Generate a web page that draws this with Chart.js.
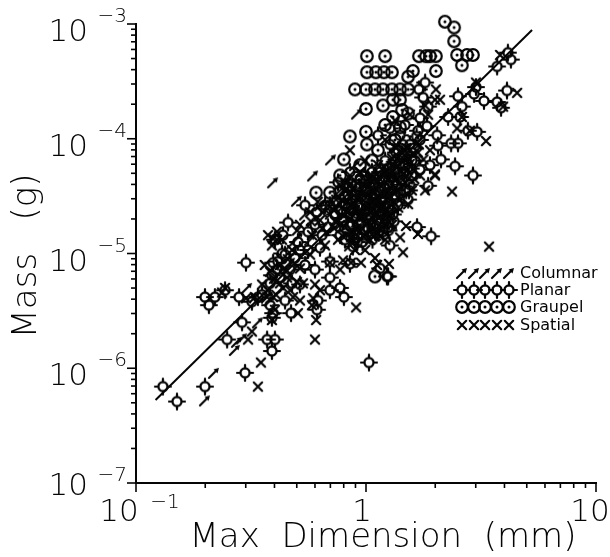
<!DOCTYPE html>
<html>
<head>
<meta charset="utf-8">
<title>Mass vs Max Dimension</title>
<script src="https://cdn.jsdelivr.net/npm/chart.js@4"></script>
<style>
  html, body { margin: 0; padding: 0; background: #fff; }
  canvas { display: block; }
</style>
</head>
<body>
<canvas id="myChart" width="610" height="557"></canvas>
<script>
// values, as [log10 of mm, log10 of g]
const columnar = [
  [-.039,-3.78],[-.152,-4.18],[-.230,-4.32],[-.404,-4.38],[-.300,-4.54],[-.517,-5.30],[-.470,-5.60],
  [-.539,-5.74],[-.561,-5.77],[-.570,-5.84],[-.661,-6.04],[-.700,-6.28],[-.296,-4.86],[-.330,-5.08],
  [-.200,-4.58],[-.113,-4.45],[-.374,-5.32],[-.309,-5.13],[-.243,-4.88],[-.091,-4.66],[-.026,-4.49],
  [-.157,-4.80],[-.417,-5.41],[.039,-4.32],[-.048,-4.23],[-.330,-4.93],[-.265,-4.66],[-.070,-4.93]
];
const planar = [
  [.617,-3.25],[.630,-3.31],[.570,-3.37],[.478,-3.55],[.400,-3.63],[.470,-3.61],[.513,-3.67],[.570,-3.68],
  [.587,-3.73],[.613,-3.58],[.417,-3.72],[.357,-3.81],[.409,-3.81],[.309,-3.97],[.443,-3.93],[.483,-3.94],
  [.370,-4.04],[.400,-4.04],[.313,-4.06],[.326,-4.18],[.387,-4.24],[.465,-4.32],[.270,-4.41],[.187,-4.45],
  [.257,-3.51],[.230,-3.57],[.248,-3.64],[.270,-3.72],[.235,-3.82],[.265,-3.89],[.226,-3.93],[.117,-4.66],
  [.096,-4.77],[.222,-4.77],[.283,-4.85],[.104,-4.93],[-.057,-4.94],[.096,-5.20],[.061,-5.13],[-.070,-5.09],
  [-.096,-5.38],[-.113,-5.30],[.013,-5.95],[.074,-4.81],[.039,-4.81],[-.339,-4.73],[-.361,-4.84],[-.365,-5.00],
  [-.522,-5.08],[-.404,-5.08],[-.387,-5.14],[-.417,-5.26],[-.322,-5.26],[-.222,-5.14],[-.157,-5.21],[-.157,-5.32],
  [-.209,-5.41],[-.213,-5.49],[-.326,-5.52],[-.404,-5.52],[-.700,-5.38],[-.657,-5.38],[-.683,-5.45],[-.613,-5.32],
  [-.552,-5.38],[-.470,-5.38],[-.496,-5.42],[-.539,-5.60],[-.604,-5.75],[-.430,-5.75],[-.396,-5.75],[-.409,-5.85],
  [-.526,-6.04],[-.700,-6.16],[-.883,-6.16],[-.822,-6.29],[-.213,-4.64],[-.165,-4.77],[-.252,-4.97],[-.157,-5.07],
  [.091,-5.20],
  // dense middle part
  [-.091,-4.58],[-.048,-4.49],[-.004,-4.45],[.039,-4.40],[.083,-4.34],[.126,-4.27],[.170,-4.23],[.213,-4.19],
  [-.061,-4.75],[-.017,-4.66],[.026,-4.58],[.070,-4.52],[.113,-4.45],[.157,-4.36],[.200,-4.32],[-.091,-4.88],
  [-.035,-4.84],[.009,-4.78],[.052,-4.71],[.096,-4.64],[.139,-4.58],[.183,-4.53],[.235,-4.27],[.278,-4.23],
  [-.026,-4.36],[.026,-4.29],[.083,-4.19],[.139,-4.10],[.191,-4.05],[.235,-4.01],[.052,-3.97],[.104,-3.91],
  [.170,-3.88],[-.070,-4.29],[-.122,-4.38],[-.178,-4.58],[-.135,-4.66],[-.191,-4.84],[-.252,-4.81],[-.296,-4.90],
  [-.265,-5.10],[-.200,-4.95],[-.287,-5.27],[-.352,-5.41],[-.265,-4.58],
  [-.078,-4.49],[-.035,-4.58],[.009,-4.66],[.052,-4.60],[.083,-4.53],[.126,-4.49],[.039,-4.49],[-.004,-4.32],
  [.061,-4.29],[.113,-4.34],[.157,-4.14],[.200,-4.19],[.104,-4.05],[.148,-3.97],[-.061,-4.62],[-.104,-4.69],
  [-.157,-4.58],[-.113,-4.84],[-.048,-4.88],[-.396,-4.88],[-.383,-5.07],[-.409,-5.19],[-.374,-5.21],[-.452,-5.36],
  [-.330,-5.14],[-.352,-5.01],[-.309,-5.04],[-.287,-4.97],[-.222,-4.75],[-.409,-5.56],[-.417,-5.45],
  [-.12,-4.46],[-.10,-4.72],[-.085,-4.80],[-.06,-4.54],[-.055,-4.68],[-.05,-4.83],[-.03,-4.42],[-.025,-4.60],
  [-.02,-4.73],[-.015,-4.90],[0,-4.36],[.005,-4.52],[.012,-4.71],[.02,-4.83],[.03,-4.40],[.035,-4.62],
  [.045,-4.76],[.06,-4.46],[.065,-4.66],[.07,-4.35],[.085,-4.58],[.09,-4.70],[.10,-4.40],[.11,-4.62],
  [.125,-4.20],[.14,-4.32],[.15,-4.47],[.16,-4.05],[.18,-4.13],[.19,-4.40],[.21,-4.08],[.22,-3.98],
  [-.13,-4.55],[-.11,-4.63],[-.095,-4.50],[-.075,-4.42],[-.072,-4.76],[-.065,-4.60],[-.045,-4.40],[-.04,-4.65],
  [-.038,-4.90],[-.018,-4.50],[-.012,-4.79],[.002,-4.62],[.015,-4.46],[.018,-4.68],[.028,-4.88],[.034,-4.34],
  [.042,-4.55],[.055,-4.82],[.068,-4.55],[.078,-4.42],[.08,-4.64],[.095,-4.30],[.098,-4.80],[.118,-4.40],
  [.122,-4.72],[.13,-4.12],[.145,-4.22],[.165,-4.30],[.175,-4.45],[.195,-4.26]
];
const graupel = [
  [.343,-2.98],[.383,-3.03],[.383,-3.15],[.396,-3.27],[.439,-3.27],[.465,-3.27],[.417,-3.36],[.004,-3.28],
  [.083,-3.28],[.230,-3.28],[.261,-3.28],[.278,-3.28],[.304,-3.28],[.004,-3.42],[.043,-3.42],[.078,-3.42],
  [.113,-3.42],[.204,-3.41],[.304,-3.41],[.183,-3.46],[-.048,-3.57],[0,-3.57],[.039,-3.57],[.074,-3.57],
  [.113,-3.57],[.148,-3.57],[.183,-3.57],[0,-3.74],[.074,-3.71],[.117,-3.66],[.148,-3.66],[.117,-3.81],
  [.157,-3.75],[.183,-3.78],[-.070,-3.98],[0,-3.94],[.083,-3.88],[.148,-3.90],[-.096,-4.18],[.004,-4.05],
  [-.217,-4.47],[-.157,-4.47],[.039,-5.20],[.052,-4.10],[.126,-4.01],[-.026,-4.23],[.026,-4.19],[.096,-4.27],
  [-.070,-4.40],[.061,-4.62],[-.113,-4.32]
];
const spatial = [
  [.304,-3.57],[.300,-3.66],[.657,-3.60],[.396,-3.91],[.522,-4.02],[.374,-4.46],[.300,-4.31],[.417,-3.81],
  [.478,-3.51],[.583,-3.27],[.596,-3.72],[.452,-3.93],[.270,-3.79],[-.070,-4.32],[.535,-4.94],[.161,-4.99],
  [.100,-5.09],[.039,-5.04],[.048,-5.10],[-.022,-5.08],[-.004,-4.97],[-.043,-5.47],[.174,-4.76],[.226,-4.83],
  [.148,-4.86],[.183,-4.57],[-.222,-5.75],[-.513,-5.75],[-.496,-5.68],[-.457,-5.95],[-.470,-6.16],[-.317,-5.38],
  [-.296,-5.52],[-.157,-5.08],[-.243,-4.64],[-.387,-4.88],[-.274,-5.26],[-.200,-5.32],[-.230,-5.39],[-.404,-5.38],
  [-.430,-5.38],[-.483,-5.38],[-.522,-5.39],[-.613,-5.30],[-.626,-5.34],[-.100,-5.06],[-.065,-5.08],[-.404,-4.87],
  [-.343,-5.21],[-.374,-5.26],
  // dense middle part
  [-.091,-4.45],[-.048,-4.62],[.009,-4.53],[.061,-4.40],[.126,-4.36],[.183,-4.27],[.235,-4.32],[.039,-4.66],
  [.083,-4.75],[-.026,-4.80],[-.113,-4.75],[-.157,-4.66],[-.070,-4.10],[-.004,-4.19],[.052,-4.23],[.113,-4.17],
  [.170,-4.10],[.226,-4.12],[.278,-4.10],[.148,-4.53],[.200,-4.45],[.257,-4.45],[.300,-4.32],[.017,-4.88],
  [.083,-4.88],[-.122,-4.88],[-.200,-4.71],[-.287,-4.75],[-.322,-4.97],[-.235,-4.84],[-.178,-4.93],[-.113,-5.14],
  [-.222,-5.27],[-.287,-5.41],[-.048,-4.97],[.017,-4.36],[.083,-4.01],[.126,-3.84],[.191,-3.79],[.257,-3.71],
  [.322,-3.66],
  [-.104,-4.53],[-.078,-4.64],[-.043,-4.73],[-.009,-4.85],[-.070,-4.81],[.026,-4.78],[.061,-4.85],[.113,-4.75],
  [-.035,-4.52],[-.004,-4.60],[.052,-4.52],[.096,-4.45],[.139,-4.45],[.170,-4.38],[.078,-4.25],[.130,-4.08],
  [.183,-4.17],[.026,-4.45],[-.026,-4.29],[-.070,-4.40],[-.130,-4.53],[-.165,-4.58],[-.191,-4.64],[-.139,-4.78],
  [-.387,-4.81],[-.409,-4.93],[-.365,-4.88],[-.426,-4.84],[-.374,-5.10],[-.417,-5.16],[-.452,-5.27],[-.426,-5.32],
  [-.348,-5.14],[-.330,-5.32],[-.391,-5.36],[-.409,-5.58],[-.396,-5.49],[-.235,-5.45],[-.217,-5.58],[-.287,-5.13],
  [-.243,-5.01],
  [-.14,-4.62],[-.115,-4.40],[-.10,-4.85],[-.08,-4.55],[-.07,-4.70],[-.06,-4.44],[-.04,-4.78],[-.03,-4.50],
  [-.01,-4.68],[0,-4.82],[.01,-4.42],[.03,-4.55],[.04,-4.72],[.05,-4.38],[.06,-4.60],[.075,-4.72],
  [.09,-4.48],[.10,-4.30],[.105,-4.67],[.12,-4.55],[.135,-4.25],[.15,-4.38],[.165,-4.18],[.19,-4.22],
  [.21,-4.35],[.23,-4.05],[.25,-4.18],[-.21,-4.55],[-.19,-4.78],[-.24,-4.72],[-.30,-4.80],[-.34,-5.05],
  [-.30,-5.25],[-.36,-5.30],[-.40,-5.22],[-.44,-5.10],
  [-.135,-4.72],[-.105,-4.60],[-.09,-4.38],[-.065,-4.86],[-.05,-4.56],[-.028,-4.68],[-.012,-4.40],[.002,-4.74],
  [.014,-4.58],[.024,-4.32],[.036,-4.46],[.048,-4.82],[.07,-4.48],[.088,-4.62],[.1,-4.52],[.115,-4.22],
  [.128,-4.46],[.14,-4.60],[.155,-4.28],[.175,-4.08],[.205,-4.13]
];
// fit line end points
const fitLine = [[-.915,-6.277],[.722,-3.052]];

// axis labels
const xDecades = [-1, 0, 1];
const yDecades = [-7, -6, -5, -4, -3];
const minorSteps = [2, 3, 4, 5, 6, 7, 8, 9];
const legendNames = ['Columnar', 'Planar', 'Graupel', 'Spatial'];
const xTitle = 'Max  Dimension  (mm)';
const yTitle = 'Mass   (g)';

const ink = '#050505';
const labelFont = '"DejaVu Sans"';

//petit canvas pour chaque symbole
function makeMark(size, draw) {
    const c = document.createElement('canvas');
    c.width = size;
    c.height = size;
    const g = c.getContext('2d');
    g.translate(size / 2, size / 2);
    g.strokeStyle = ink;
    g.fillStyle = ink;
    g.lineWidth = 2.2;
    g.lineCap = 'round';
    draw(g);
    return c;
}

const arrowMark = makeMark(16, g => {
    g.beginPath(); g.moveTo(-5, 5); g.lineTo(2, -2); g.stroke();
    g.beginPath(); g.moveTo(5, -5); g.lineTo(-.5, -3.5); g.lineTo(3.5, .5); g.closePath(); g.fill();
});
const planarMark = makeMark(20, g => {
    g.beginPath(); g.arc(0, 0, 4.6, 0, Math.PI * 2); g.stroke();
    g.beginPath();
    g.moveTo(-8, 0); g.lineTo(-4.6, 0);
    g.moveTo(8, 0); g.lineTo(4.6, 0);
    g.moveTo(0, -8); g.lineTo(0, -4.6);
    g.moveTo(0, 8); g.lineTo(0, 4.6);
    g.stroke();
});
const graupelMark = makeMark(18, g => {
    g.beginPath(); g.arc(0, 0, 5.8, 0, Math.PI * 2); g.stroke();
    g.beginPath(); g.arc(0, 0, 1.5, 0, Math.PI * 2); g.fill();
});
const spatialMark = makeMark(14, g => {
    g.beginPath();
    g.moveTo(-4.2, -4.2); g.lineTo(4.2, 4.2);
    g.moveTo(-4.2, 4.2); g.lineTo(4.2, -4.2);
    g.stroke();
});

const toPoints = list => list.map(p => ({ x: Math.pow(10, p[0]), y: Math.pow(10, p[1]) }));
const markSet = (label, list, mark) => ({
    label,
    data: toPoints(list),
    pointStyle: mark,
    pointRadius: 6,
    clip: false
});

//graduations, labels et légende
const axisDecor = {
    id: 'axisDecor',
    afterDraw(chart) {
        const { ctx, scales: { x, y } } = chart;
        ctx.save();
        ctx.strokeStyle = ink;
        ctx.fillStyle = ink;
        ctx.lineWidth = 1.6;

        const xTick = (v, len) => {
            const p = x.getPixelForValue(v);
            ctx.beginPath(); ctx.moveTo(p, x.top); ctx.lineTo(p, x.top + len); ctx.stroke();
        };
        const yTick = (v, len) => {
            const p = y.getPixelForValue(v);
            ctx.beginPath(); ctx.moveTo(y.right, p); ctx.lineTo(y.right - len, p); ctx.stroke();
        };
        xDecades.forEach((d, i) => {
            xTick(Math.pow(10, d), 9);
            if (i < xDecades.length - 1) minorSteps.forEach(m => xTick(m * Math.pow(10, d), 5));
        });
        yDecades.forEach((d, i) => {
            yTick(Math.pow(10, d), 9);
            if (i < yDecades.length - 1) minorSteps.forEach(m => yTick(m * Math.pow(10, d), 5));
        });

        ctx.textBaseline = 'middle';
        // y labels
        yDecades.forEach(d => {
            const p = y.getPixelForValue(Math.pow(10, d));
            const shift = d === -7 ? 4 : 9;
            ctx.textAlign = 'right';
            ctx.font = '200 31px ' + labelFont;
            ctx.fillText('10', 88, p + shift);
            ctx.font = '200 20px ' + labelFont;
            ctx.fillText('\u2212' + Math.abs(d), 127, p - 7);
        });
        // x labels
        const base = x.top + 30;
        ctx.textAlign = 'center';
        ctx.font = '200 31px ' + labelFont;
        ctx.fillText('10', x.getPixelForValue(0.1) - 17, base);
        ctx.fillText('1', x.getPixelForValue(1) - 4, base);
        ctx.fillText('10', x.getPixelForValue(10) - 6, base);
        ctx.font = '200 20px ' + labelFont;
        ctx.fillText('\u22121', x.getPixelForValue(0.1) + 29, base - 10);

        // axis titles
        ctx.save();
        ctx.font = '200 34px ' + labelFont;
        ctx.fillText(xTitle, 383, 538);
        ctx.translate(27, 256);
        ctx.rotate(-Math.PI / 2);
        ctx.fillText(yTitle, 0, 0);
        ctx.restore();

        // legend
        const marks = [arrowMark, planarMark, graupelMark, spatialMark];
        const rows = [273, 290, 307, 325];
        const slots = [462, 474, 485, 497, 509];
        ctx.textAlign = 'left';
        ctx.font = '16px ' + labelFont;
        legendNames.forEach((name, i) => {
            slots.forEach(s => ctx.drawImage(marks[i], s - marks[i].width / 2, rows[i] - marks[i].height / 2));
            ctx.fillText(name, 520, rows[i] + 1);
        });
        ctx.restore();
    }
};

const data = {
    datasets: [
        {
            label: 'Fit',
            data: toPoints(fitLine),
            showLine: true,
            borderColor: ink,
            borderWidth: 2,
            pointRadius: 0,
            clip: false
        },
        markSet('Columnar', columnar, arrowMark),
        markSet('Planar', planar, planarMark),
        markSet('Graupel', graupel, graupelMark),
        markSet('Spatial', spatial, spatialMark)
    ]
};

const config = {
    type: 'scatter',
    data,
    options: {
        responsive: false,
        animation: false,
        layout: { padding: { top: 24, right: 14 } },
        plugins: { legend: { display: false }, tooltip: { enabled: false } },
        scales: {
            x: {
                type: 'logarithmic',
                min: 0.1,
                max: 10,
                grid: { display: false },
                border: { color: ink, width: 2 },
                ticks: { display: false },
                afterFit: s => { s.height = 74; }
            },
            y: {
                type: 'logarithmic',
                min: 1e-7,
                max: 1e-3,
                grid: { display: false },
                border: { color: ink, width: 2 },
                ticks: { display: false },
                afterFit: s => { s.width = 136; }
            }
        }
    },
    plugins: [axisDecor]
};

const mychart = new Chart(document.getElementById('myChart'), config);
</script>
</body>
</html>
